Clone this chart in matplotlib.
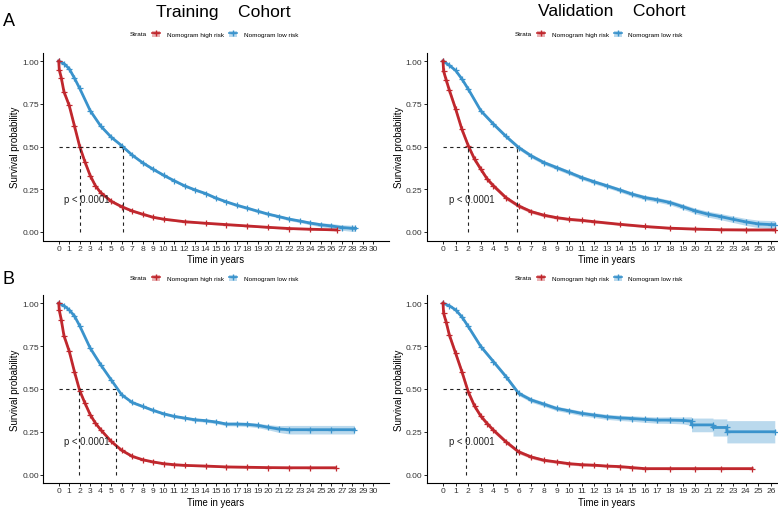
import matplotlib
matplotlib.use("Agg")
import matplotlib.pyplot as plt
from matplotlib.lines import Line2D
from matplotlib.patches import Patch
import numpy as np

plt.rcParams['font.family'] = ['Liberation Sans', 'DejaVu Sans']

RED = '#C0272D'
BLUE = '#3A93CC'

# ---------------- data ----------------
# Panel A, Training cohort
trA_high_t = [0, 0.05, 0.25, 0.5, 1, 1.5, 2, 2.5, 3, 3.5, 4, 5, 6, 7, 8, 9, 10, 12, 14, 16, 18, 20, 22, 24, 26.5]
trA_high_s = [1.0, 0.95, 0.90, 0.82, 0.74, 0.62, 0.50, 0.41, 0.33, 0.27, 0.23, 0.18, 0.148, 0.123, 0.104, 0.086, 0.075, 0.06, 0.051, 0.043, 0.035, 0.027, 0.02, 0.016, 0.012]
trA_high_ci = [0, 0.01, 0.012, 0.012, 0.012, 0.012, 0.012, 0.012, 0.011, 0.01, 0.01, 0.009, 0.008, 0.007, 0.007, 0.006, 0.006, 0.005, 0.005, 0.005, 0.005, 0.005, 0.005, 0.005, 0.005]
trA_low_t = [0, 0.5, 1, 1.5, 2, 3, 4, 5, 6, 7, 8, 9, 10, 11, 12, 13, 14, 15, 16, 17, 18, 19, 20, 21, 22, 23, 24, 25, 26, 27, 28, 28.3]
trA_low_s = [1.0, 0.985, 0.955, 0.90, 0.84, 0.71, 0.62, 0.555, 0.505, 0.45, 0.405, 0.367, 0.332, 0.30, 0.27, 0.246, 0.225, 0.198, 0.176, 0.156, 0.139, 0.121, 0.104, 0.09, 0.075, 0.064, 0.052, 0.042, 0.035, 0.026, 0.021, 0.021]
trA_low_ci = [0, 0.003, 0.005, 0.006, 0.007, 0.008, 0.008, 0.008, 0.008, 0.008, 0.008, 0.008, 0.008, 0.008, 0.008, 0.008, 0.008, 0.008, 0.008, 0.008, 0.008, 0.008, 0.008, 0.008, 0.009, 0.009, 0.01, 0.012, 0.014, 0.016, 0.018, 0.018]
trA_med = [2.0, 6.1]

# Panel A, Validation cohort
vaA_high_t = [0, 0.05, 0.25, 0.5, 1, 1.5, 2, 2.5, 3, 3.5, 4, 5, 6, 7, 8, 9, 10, 11, 12, 14, 16, 18, 20, 22, 24, 26.3]
vaA_high_s = [1.0, 0.94, 0.89, 0.83, 0.72, 0.60, 0.505, 0.426, 0.367, 0.31, 0.27, 0.20, 0.152, 0.119, 0.098, 0.084, 0.074, 0.068, 0.06, 0.045, 0.032, 0.022, 0.017, 0.013, 0.012, 0.012]
vaA_high_ci = [0, 0.015, 0.016, 0.016, 0.016, 0.016, 0.016, 0.015, 0.014, 0.013, 0.013, 0.012, 0.011, 0.01, 0.009, 0.008, 0.008, 0.008, 0.007, 0.007, 0.006, 0.006, 0.006, 0.006, 0.006, 0.006]
vaA_low_t = [0, 0.5, 1, 1.5, 2, 3, 4, 5, 6, 7, 8, 9, 10, 11, 12, 13, 14, 15, 16, 17, 18, 19, 20, 21, 22, 23, 24, 25, 26, 26.3]
vaA_low_s = [1.0, 0.975, 0.945, 0.895, 0.836, 0.709, 0.631, 0.559, 0.494, 0.445, 0.406, 0.377, 0.348, 0.318, 0.293, 0.27, 0.246, 0.221, 0.201, 0.188, 0.172, 0.148, 0.123, 0.104, 0.09, 0.074, 0.059, 0.047, 0.043, 0.043]
vaA_low_ci = [0, 0.005, 0.007, 0.009, 0.01, 0.011, 0.012, 0.012, 0.012, 0.012, 0.012, 0.012, 0.012, 0.012, 0.012, 0.012, 0.012, 0.013, 0.013, 0.014, 0.014, 0.015, 0.016, 0.017, 0.018, 0.019, 0.02, 0.022, 0.024, 0.024]
vaA_med = [1.95, 5.9]

# Panel B, Training cohort
trB_high_t = [0, 0.05, 0.25, 0.5, 1, 1.5, 2, 2.5, 3, 3.5, 4, 5, 6, 7, 8, 9, 10, 11, 12, 14, 16, 18, 20, 22, 24, 26.4]
trB_high_s = [1.0, 0.96, 0.90, 0.81, 0.72, 0.60, 0.49, 0.417, 0.35, 0.30, 0.262, 0.194, 0.142, 0.107, 0.087, 0.074, 0.064, 0.058, 0.054, 0.05, 0.045, 0.043, 0.041, 0.04, 0.04, 0.04]
trB_high_ci = [0, 0.01, 0.012, 0.012, 0.012, 0.012, 0.012, 0.012, 0.011, 0.01, 0.01, 0.009, 0.008, 0.007, 0.006, 0.006, 0.005, 0.005, 0.005, 0.005, 0.005, 0.005, 0.005, 0.005, 0.005, 0.005]
trB_low_t = [0, 0.5, 1, 1.5, 2, 3, 4, 5, 6, 7, 8, 9, 10, 11, 12, 13, 14, 15, 16, 17, 18, 19, 20, 21, 22, 24, 26, 28.2]
trB_low_s = [1.0, 0.985, 0.961, 0.925, 0.868, 0.738, 0.641, 0.553, 0.466, 0.421, 0.398, 0.375, 0.355, 0.34, 0.33, 0.32, 0.315, 0.307, 0.295, 0.295, 0.293, 0.287, 0.276, 0.266, 0.262, 0.262, 0.262, 0.262]
trB_low_ci = [0, 0.003, 0.005, 0.006, 0.007, 0.008, 0.008, 0.008, 0.008, 0.008, 0.008, 0.008, 0.008, 0.008, 0.008, 0.009, 0.009, 0.01, 0.01, 0.011, 0.012, 0.013, 0.015, 0.02, 0.025, 0.025, 0.025, 0.025]
trB_med = [1.9, 5.5]

# Panel B, Validation cohort
vaB_high_t = [0, 0.05, 0.25, 0.5, 1, 1.5, 2, 2.5, 3, 3.5, 4, 5, 6, 7, 8, 9, 10, 11, 12, 13, 14, 15, 16, 18, 20, 22, 24.5]
vaB_high_s = [1.0, 0.94, 0.89, 0.815, 0.708, 0.60, 0.483, 0.40, 0.341, 0.298, 0.259, 0.191, 0.133, 0.103, 0.084, 0.074, 0.064, 0.058, 0.055, 0.05, 0.047, 0.041, 0.035, 0.035, 0.035, 0.035, 0.035]
vaB_high_ci = [0, 0.015, 0.016, 0.016, 0.016, 0.016, 0.016, 0.015, 0.014, 0.013, 0.013, 0.012, 0.011, 0.01, 0.009, 0.008, 0.008, 0.008, 0.007, 0.007, 0.007, 0.007, 0.006, 0.006, 0.006, 0.006, 0.006]
vaB_low_t = [0, 0.5, 1, 1.5, 2, 3, 4, 5, 6, 7, 8, 9, 10, 11, 12, 13, 14, 15, 16, 17, 18, 19, 19.7, 19.7, 21.4, 21.4, 22.5, 22.5, 26.3]
vaB_low_s = [1.0, 0.985, 0.961, 0.92, 0.864, 0.747, 0.659, 0.571, 0.474, 0.435, 0.411, 0.386, 0.372, 0.357, 0.347, 0.337, 0.331, 0.327, 0.322, 0.318, 0.318, 0.316, 0.312, 0.29, 0.29, 0.275, 0.275, 0.25, 0.25]
vaB_low_ci = [0, 0.005, 0.007, 0.009, 0.01, 0.012, 0.012, 0.013, 0.013, 0.013, 0.013, 0.013, 0.013, 0.014, 0.014, 0.015, 0.015, 0.016, 0.017, 0.018, 0.019, 0.02, 0.025, 0.04, 0.04, 0.05, 0.05, 0.065, 0.065]
vaB_med = [1.85, 5.75]

x_ticks_train = list(range(0, 31))
x_ticks_valid = list(range(0, 27))
y_ticks = [0, 0.25, 0.5, 0.75, 1.0]
y_ticklabels = ['0.00', '0.25', '0.50', '0.75', '1.00']
titles = ['Training    Cohort', 'Validation    Cohort']
labels = ['Nomogram high risk', 'Nomogram low risk']
p_text = 'p < 0.0001'

# ---------------- figure ----------------
W, H = 778, 510
fig = plt.figure(figsize=(W / 100, H / 100), dpi=100)


def px_axes(x0, y0, x1, y1):
    return fig.add_axes([x0 / W, 1 - y1 / H, (x1 - x0) / W, (y1 - y0) / H])


def draw_panel(ax, curves, med, xticks, xmax, ylab_x, xlab_y):
    for t, s, ci, c in curves:
        t = np.array(t); s = np.array(s); ci = np.array(ci)
        ax.fill_between(t, s - ci, s + ci, color=c, alpha=0.35, lw=0)
        ax.plot(t, s, color=c, lw=2.0, marker='+', ms=4.5, mew=0.9)
    ax.plot([0, max(med)], [0.5, 0.5], color='#222222', lw=0.8, ls=(0, (3, 3)))
    for m in med:
        ax.plot([m, m], [0, 0.5], color='#222222', lw=0.8, ls=(0, (3, 3)))
    ax.text(0.5, 0.195, p_text, fontsize=6.9, va='center', ha='left', color='#222222')
    ax.set_xlim(-0.05 * xmax, 1.05 * xmax)
    ax.set_ylim(-0.05, 1.05)
    ax.set_xticks(xticks)
    ax.set_xticklabels([str(v) for v in xticks])
    ax.set_yticks(y_ticks)
    ax.set_yticklabels(y_ticklabels)
    for sp in ['top', 'right']:
        ax.spines[sp].set_visible(False)
    for sp in ['left', 'bottom']:
        ax.spines[sp].set_linewidth(0.8)
    ax.tick_params(axis='both', length=2.2, width=0.6, pad=0.8, labelsize=6.1,
                   labelcolor='#333333', color='black')
    ax.set_xlabel('Time in years', fontsize=6.9)
    ax.xaxis.set_label_coords(0.5, xlab_y)
    ax.set_ylabel('Survival probability', fontsize=7)
    ax.yaxis.set_label_coords(ylab_x, 0.5)


def draw_legend(x_strata, y):
    fig.text(x_strata / W, 1 - y / H, 'Strata', fontsize=4.6, va='center', ha='left')
    handles = [(Patch(facecolor=RED, alpha=0.35, lw=0), Line2D([], [], color=RED, marker='+', ms=4, lw=1.2)),
               (Patch(facecolor=BLUE, alpha=0.35, lw=0), Line2D([], [], color=BLUE, marker='+', ms=4, lw=1.2))]
    fig.legend(handles, labels, loc='center left', bbox_to_anchor=((x_strata + 22) / W, 1 - y / H),
               ncol=2, frameon=False, fontsize=4.6, handlelength=1.3, handleheight=1.3,
               handletextpad=1.0, columnspacing=0.8, borderpad=0, borderaxespad=0)


# top-left
ax1 = px_axes(43, 53.5, 389, 241.5)
draw_panel(ax1, [(trA_low_t, trA_low_s, trA_low_ci, BLUE), (trA_high_t, trA_high_s, trA_high_ci, RED)],
           trA_med, x_ticks_train, 30, -0.066, -0.074)
# top-right
ax2 = px_axes(426.6, 53.5, 787.4, 241.5)
draw_panel(ax2, [(vaA_low_t, vaA_low_s, vaA_low_ci, BLUE), (vaA_high_t, vaA_high_s, vaA_high_ci, RED)],
           vaA_med, x_ticks_valid, 26, -0.062, -0.074)
# bottom-left
ax3 = px_axes(43, 295.6, 389, 484.2)
draw_panel(ax3, [(trB_low_t, trB_low_s, trB_low_ci, BLUE), (trB_high_t, trB_high_s, trB_high_ci, RED)],
           trB_med, x_ticks_train, 30, -0.066, -0.074)
# bottom-right
ax4 = px_axes(426.6, 295.6, 787.4, 484.2)
draw_panel(ax4, [(vaB_low_t, vaB_low_s, vaB_low_ci, BLUE), (vaB_high_t, vaB_high_s, vaB_high_ci, RED)],
           vaB_med, x_ticks_valid, 26, -0.063, -0.074)

fig.text(223 / W, 1 - 12 / H, titles[0], fontsize=12.6, ha='center', va='center')
fig.text(612 / W, 1 - 12 / H, titles[1], fontsize=12.6, ha='center', va='center')
fig.text(3 / W, 1 - 22 / H, 'A', fontsize=13, ha='left', va='center')
fig.text(3 / W, 1 - 280 / H, 'B', fontsize=13, ha='left', va='center')

draw_legend(130, 35)
draw_legend(515, 35)
draw_legend(130, 279)
draw_legend(515, 279)

fig.savefig('out.png', dpi=100)
